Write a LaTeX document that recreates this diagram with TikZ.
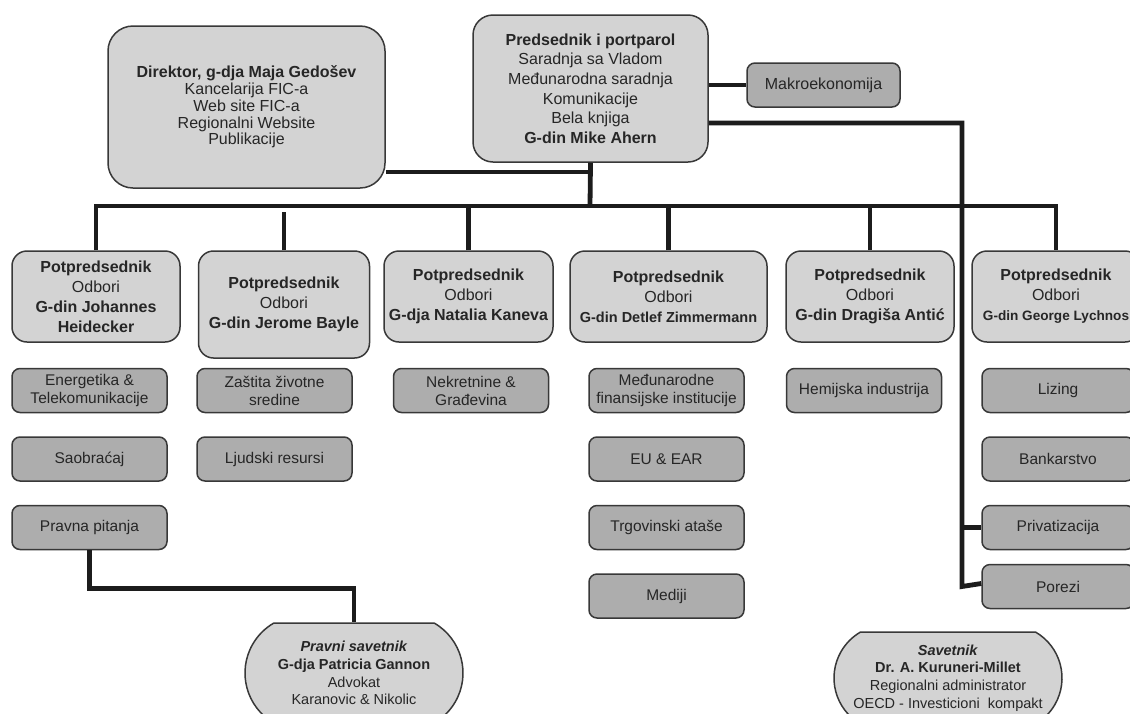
\documentclass[tikz,border=0pt]{standalone}
\usepackage{fontspec}
\setmainfont{Liberation Sans}
\usetikzlibrary{shapes.misc}

\definecolor{boxfill}{HTML}{D3D3D3}
\definecolor{odborfill}{HTML}{ADADAD}
\definecolor{rub}{HTML}{383838}
\definecolor{txt}{HTML}{262626}
\definecolor{wirec}{HTML}{1C1C1C}

\tikzset{
  wire/.style={line width=4.8pt, draw=wirec},
  topbox/.style={draw=rub, line width=1.5pt, fill=boxfill, text=txt, align=center, inner sep=0pt},
  vpbox/.style={topbox, rounded corners=15pt, minimum width=168pt, minimum height=91pt,
    font=\fontsize{16}{20}\selectfont},
  odbor/.style={topbox, fill=odborfill, rounded corners=8pt, minimum width=155pt, minimum height=44pt,
    font=\fontsize{15.5}{18}\selectfont},
  savet/.style={topbox, rounded rectangle, rounded rectangle arc length=120,
    font=\fontsize{14.5}{17.7}\selectfont}
}

\begin{document}
\begin{tikzpicture}[x=1pt,y=-1pt]
  \useasboundingbox (0,0) rectangle (1130,713);
  \clip (0,0) rectangle (1130,713);

  \node[topbox, rounded corners=25pt, minimum width=277pt, minimum height=162pt,
    font=\fontsize{16}{16.8}\selectfont] (direktor) at (246.5,107)
    {\textbf{Direktor, g-dja Maja Gedošev}\\Kancelarija FIC-a\\Web site FIC-a\\Regionalni Website\\Publikacije};
  \node[topbox, rounded corners=20pt, minimum width=235pt, minimum height=147pt,
    font=\fontsize{16}{19.6}\selectfont] (predsednik) at (590.5,88.5)
    {\textbf{Predsednik i portparol}\\Saradnja sa Vladom\\Međunarodna saradnja\\Komunikacije\\Bela knjiga\\\textbf{G-din Mike Ahern}};
  \node[odbor, minimum width=153pt, font=\fontsize{16}{18}\selectfont] (makro) at (823.5,85) {Makroekonomija};

  \node[vpbox] (vp1) at (96,296.5)
    {\textbf{Potpredsednik}\\Odbori\\\textbf{G-din Johannes}\\\textbf{Heidecker}};
  \node[vpbox, minimum width=171pt, minimum height=107pt] (vp2) at (284,304.5)
    {\textbf{Potpredsednik}\\Odbori\\\textbf{G-din Jerome Bayle}};
  \node[vpbox, minimum width=169pt] (vp3) at (468.5,296.5)
    {\textbf{Potpredsednik}\\Odbori\\\textbf{G-dja Natalia Kaneva}};
  \node[vpbox, minimum width=197pt] (vp4) at (668.5,296.5)
    {\textbf{Potpredsednik}\\Odbori\\{\fontsize{14.5}{20}\selectfont\textbf{G-din Detlef Zimmermann}}};
  \node[vpbox] (vp5) at (870,296.5)
    {\textbf{Potpredsednik}\\Odbori\\\textbf{G-din Dragiša Antić}};
  \node[vpbox] (vp6) at (1056,296.5)
    {\textbf{Potpredsednik}\\Odbori\\{\fontsize{13.6}{20}\selectfont\textbf{G-din George Lychnos}}};

  \node[odbor] (energ) at (89.5,390.5) {Energetika \&\\Telekomunikacije};
  \node[odbor] (saobr) at (89.5,459) {Saobraćaj};
  \node[odbor] (pravna) at (89.5,527.5) {Pravna pitanja};
  \node[odbor] (zastita) at (274.5,390.5) {Zaštita životne\\sredine};
  \node[odbor] (ljudski) at (274.5,459) {Ljudski resursi};
  \node[odbor] (nekret) at (471,390.5) {Nekretnine \&\\Građevina};
  \node[odbor] (medjun) at (666.5,390.5) {Međunarodne\\finansijske institucije};
  \node[odbor] (euear) at (666.5,459) {EU \& EAR};
  \node[odbor] (trgov) at (666.5,527.5) {Trgovinski ataše};
  \node[odbor] (mediji) at (666.5,596) {Mediji};
  \node[odbor] (hemija) at (864,390.5) {Hemijska industrija};
  \node[odbor, minimum width=152pt] (lizing) at (1058,390.5) {Lizing};
  \node[odbor, minimum width=152pt] (bankar) at (1058,459) {Bankarstvo};
  \node[odbor, minimum width=152pt] (privat) at (1058,527.5) {Privatizacija};
  \node[odbor, minimum width=152pt] (porezi) at (1058,586.5) {Porezi};

  \node[savet, minimum width=218pt, minimum height=100pt] (pravnik) at (354,673)
    {\textbf{\textit{Pravni savetnik}}\\\textbf{G-dja Patricia Gannon}\\Advokat\\Karanovic \& Nikolic};
  \node[savet, minimum width=228pt, minimum height=92pt] (savetnik) at (948,678)
    {\textbf{\textit{Savetnik}}\\\textbf{Dr. A. Kuruneri-Millet}\\Regionalni administrator\\OECD - Investicioni~~kompakt};

  \coordinate (bus) at (590,206);
  \coordinate (trunk) at (962,123);

  \begin{scope}[wire]
    \draw ([yshift=-65pt]direktor.east) -- ([yshift=-65pt]direktor.east -| bus);
    \draw (predsednik.south) -- (bus);
    \draw (makro.west -| predsednik.east) -- (makro.west);
    \draw (vp1.north) -- (vp1.north |- bus) -- (vp6.north |- bus) -- (vp6.north);
    \foreach \v in {vp3,vp4,vp5}
      \draw (\v.north) -- (\v.north |- bus);
    \draw (vp2.north) -- ++(0,-38);
    \draw (trunk -| predsednik.east) -- (trunk) -- (trunk |- porezi.west) -- ([yshift=3pt]porezi.west);
    \draw (privat.west -| trunk) -- (privat.west);
    \draw (pravna.south) -- ++(0,38) -| (pravnik.north);
  \end{scope}
\end{tikzpicture}
\end{document}
